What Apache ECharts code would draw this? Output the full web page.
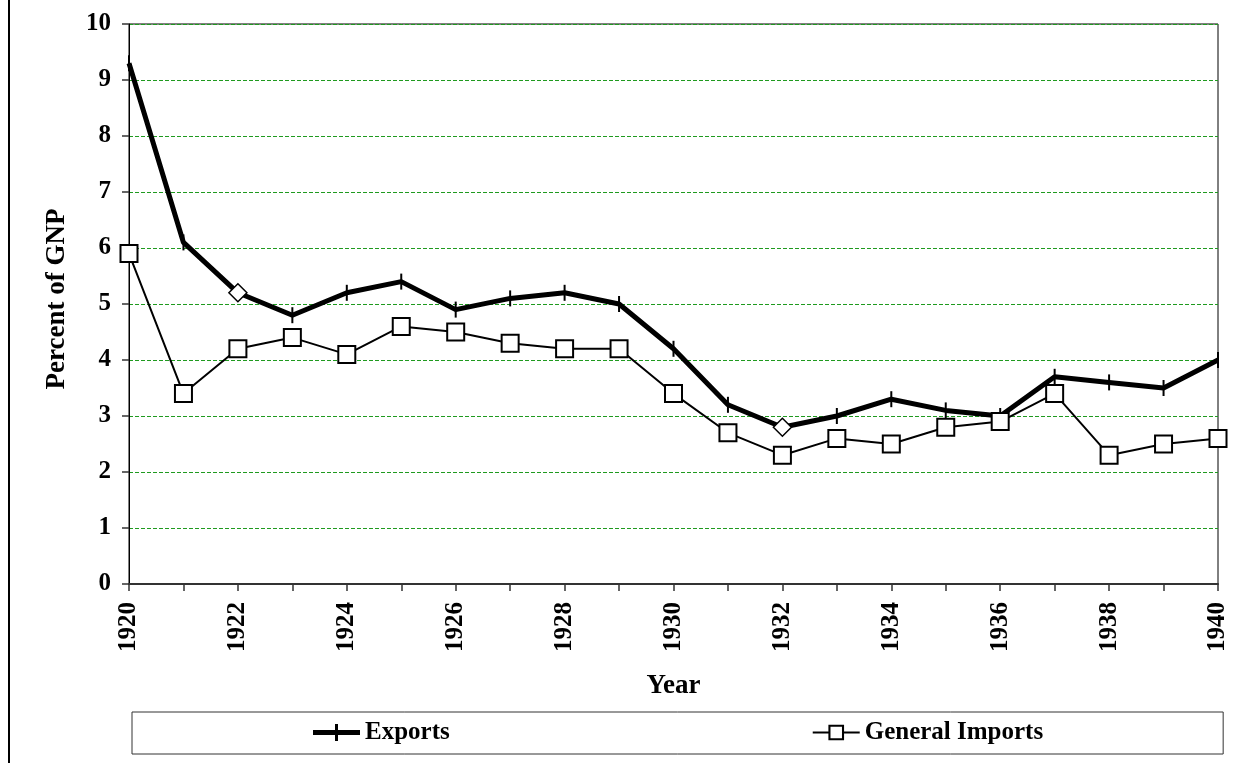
<!DOCTYPE html>
<html>
<head>
<meta charset="utf-8">
<script src="https://cdn.jsdelivr.net/npm/echarts@6/dist/echarts.min.js"></script>
<style>
  html, body { margin: 0; padding: 0; background: #fff; }
  #chart { width: 1248px; height: 763px; }
</style>
</head>
<body>
<div id="chart"></div>
<script>
// anos do eixo X
var years = ['1920', '1921', '1922', '1923', '1924', '1925', '1926', '1927', '1928', '1929', '1930',
  '1931', '1932', '1933', '1934', '1935', '1936', '1937', '1938', '1939', '1940'];
// percentuais do PNB
var exportsPct = [9.3, 6.1, 5.2, 4.8, 5.2, 5.4, 4.9, 5.1, 5.2, 5.0, 4.2,
  3.2, 2.8, 3.0, 3.3, 3.1, 3.0, 3.7, 3.6, 3.5, 4.0];
var importsPct = [5.9, 3.4, 4.2, 4.4, 4.1, 4.6, 4.5, 4.3, 4.2, 4.2, 3.4,
  2.7, 2.3, 2.6, 2.5, 2.8, 2.9, 3.4, 2.3, 2.5, 2.6];
// pontos de exportação com marcador em losango
var diamondYears = ['1922', '1932'];

var FONT = '"Liberation Serif", "Times New Roman", serif';
var TICK = 'path://M0,0 L2,0 L2,16 L0,16 Z';
// ícones da legenda: linha grossa com traço vertical / linha fina com quadrado vazado
var ICON_EXP = 'path://M0,6 L47,6 L47,11 L0,11 Z M22,0 L25,0 L25,17 L22,17 Z';
var ICON_IMP = 'path://M0,7.5 L15,7.5 L15,9.5 L0,9.5 Z M15,1 L30,1 L30,16 L15,16 Z M17,3 L17,14 L28,14 L28,3 Z M30,7.5 L45,7.5 L45,9.5 L30,9.5 Z';

var exportsData = exportsPct.map(function (v, i) {
  if (diamondYears.indexOf(years[i]) >= 0) {
    return {
      value: v,
      symbol: 'diamond',
      symbolSize: 18,
      itemStyle: { color: '#fff', borderColor: '#000', borderWidth: 1.5 }
    };
  }
  return v;
});

var labelFont = { fontFamily: FONT, fontWeight: 'bold', fontSize: 25, color: '#000' };
var titleFont = { fontFamily: FONT, fontWeight: 'bold', fontSize: 27, color: '#000' };

var chart = echarts.init(document.getElementById('chart'));
chart.setOption({
  animation: false,
  textStyle: { fontFamily: FONT },
  grid: {
    left: 129, right: 30, top: 24, bottom: 179,
    show: true, borderColor: '#000', borderWidth: 1
  },
  graphic: [{
    type: 'rect',
    shape: { x: 8, y: -2, width: 2, height: 770 },
    style: { fill: '#000' }
  }],
  legend: {
    left: 132, top: 712,
    padding: [8, 180, 9, 181],
    itemGap: 363,
    itemWidth: 47, itemHeight: 17,
    backgroundColor: '#fff',
    borderColor: '#333', borderWidth: 1,
    textStyle: { fontFamily: FONT, fontWeight: 'bold', fontSize: 25, color: '#000' },
    data: [
      { name: 'Exports', icon: ICON_EXP, itemStyle: { color: '#000', borderWidth: 0 } },
      { name: 'General Imports', icon: ICON_IMP, itemStyle: { color: '#000', borderWidth: 0 } }
    ]
  },
  xAxis: {
    type: 'category',
    data: years,
    boundaryGap: false,
    name: 'Year',
    nameLocation: 'middle',
    nameGap: 89,
    nameTextStyle: titleFont,
    axisLine: { lineStyle: { color: '#333', width: 2 } },
    axisTick: { interval: 0, length: 7, lineStyle: { color: '#333', width: 1.5 } },
    axisLabel: Object.assign({ interval: 1, rotate: 90, margin: 18 }, labelFont),
    splitLine: { show: false }
  },
  yAxis: {
    type: 'value',
    min: 0, max: 10, interval: 1,
    name: 'Percent of GNP',
    nameLocation: 'middle',
    nameRotate: 90,
    nameGap: 58,
    nameTextStyle: Object.assign({ padding: [0, 0, 0, 10] }, titleFont),
    axisLine: { show: true, lineStyle: { color: '#000', width: 1 } },
    axisTick: { show: true, length: 7, lineStyle: { color: '#333', width: 1.5 } },
    axisLabel: Object.assign({ margin: 18 }, labelFont),
    splitLine: { lineStyle: { color: '#1f9a1f', width: 1, type: [4, 2] } }
  },
  series: [
    {
      name: 'Exports',
      type: 'line',
      data: exportsData,
      symbol: TICK,
      symbolSize: [2, 16],
      showAllSymbol: true,
      lineStyle: { color: '#000', width: 5 },
      itemStyle: { color: '#000', borderWidth: 0 }
    },
    {
      name: 'General Imports',
      type: 'line',
      data: importsPct,
      symbol: 'rect',
      symbolSize: 17,
      showAllSymbol: true,
      lineStyle: { color: '#000', width: 2 },
      itemStyle: { color: '#fff', borderColor: '#000', borderWidth: 2 }
    }
  ]
});
</script>
</body>
</html>
